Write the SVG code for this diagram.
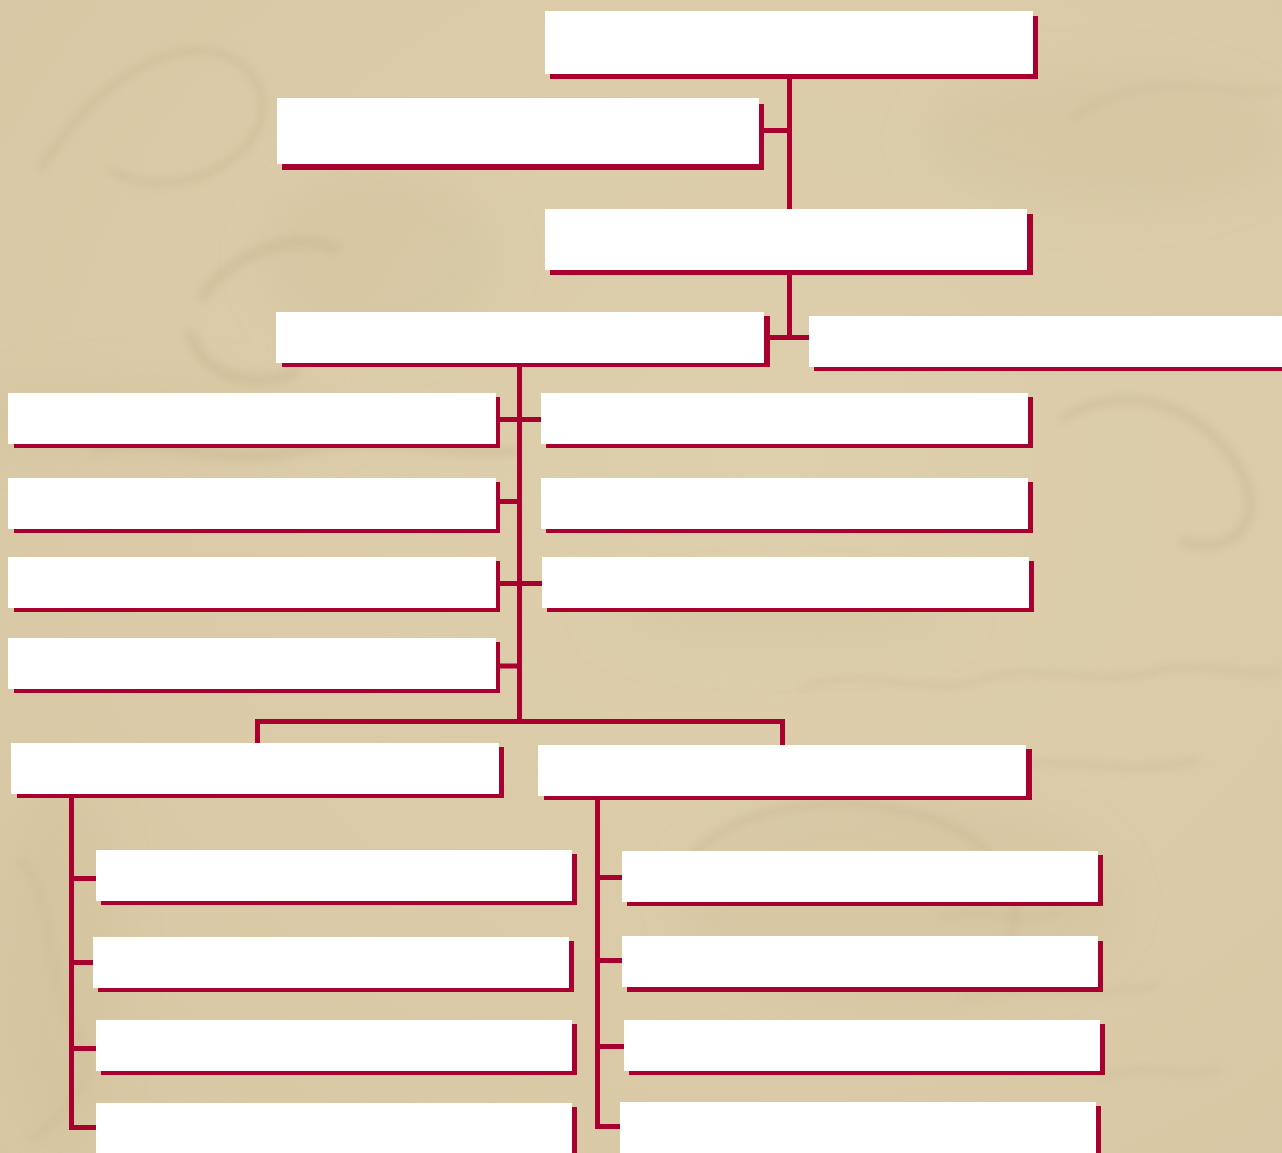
<svg xmlns="http://www.w3.org/2000/svg" width="1282" height="1153" viewBox="0 0 1282 1153">
  <defs>
    <style>
      .sh { fill: #A8002F; }
      .bx { fill: #FFFFFF; }
      .ln { fill: none; stroke: #A8002F; stroke-width: 5; stroke-linecap: butt; stroke-linejoin: miter; }
      .tex { fill: none; stroke: #C7B38C; stroke-opacity: 0.35; }
      .blob { fill: #CDBB95; fill-opacity: 0.25; }
    </style>
    <radialGradient id="bgGrad" cx="0.6" cy="0.4" r="0.8">
      <stop offset="0" stop-color="#DECFAD"/>
      <stop offset="1" stop-color="#D8C7A3"/>
    </radialGradient>
    <filter id="soft" x="-10%" y="-10%" width="120%" height="120%">
      <feGaussianBlur stdDeviation="4"/>
    </filter>
    <filter id="verysoft" x="-20%" y="-20%" width="140%" height="140%">
      <feGaussianBlur stdDeviation="20"/>
    </filter>
  </defs>

  <!-- background -->
  <rect x="0" y="0" width="1282" height="1153" fill="url(#bgGrad)"/>
  <g filter="url(#verysoft)">
    <ellipse class="blob" cx="1100" cy="140" rx="180" ry="70"/>
    <ellipse class="blob" cx="150" cy="420" rx="200" ry="40"/>
    <ellipse class="blob" cx="780" cy="620" rx="180" ry="30"/>
    <ellipse class="blob" cx="900" cy="900" rx="220" ry="110"/>
    <ellipse class="blob" cx="60" cy="960" rx="60" ry="180"/>
    <ellipse class="blob" cx="380" cy="260" rx="120" ry="90"/>
  </g>
  <g filter="url(#soft)">
    <path class="tex" stroke-width="8" d="M40 170 C 120 40, 230 20, 260 90 C 280 150, 180 210, 110 170"/>
    <path class="tex" stroke-width="12" d="M200 300 C 230 250, 300 230, 340 250 M190 330 C 200 380, 260 390, 300 370"/>
    <path class="tex" stroke-width="10" d="M1060 420 C 1120 380, 1200 400, 1240 470 C 1270 520, 1230 560, 1180 540"/>
    <path class="tex" stroke-width="6" d="M800 690 C 860 660, 920 700, 980 680 C 1040 660, 1100 690, 1160 670 C 1200 660, 1250 680, 1282 670"/>
    <path class="tex" stroke-width="6" d="M820 780 C 880 760, 940 790, 1000 770 C 1060 750, 1120 780, 1200 760"/>
    <path class="tex" stroke-width="8" d="M680 880 C 700 820, 800 790, 900 810 C 1000 830, 1040 900, 1000 960"/>
    <path class="tex" stroke-width="5" d="M940 920 C 980 900, 1020 930, 1060 910 M960 1000 C 1010 980, 1080 1000, 1160 985 M1100 1080 C 1140 1060, 1180 1080, 1220 1070"/>
    <path class="tex" stroke-width="10" d="M90 450 C 150 430, 220 470, 300 450 C 380 430, 450 460, 520 450"/>
    <path class="tex" stroke-width="5" d="M20 860 C 60 900, 40 980, 80 1040 C 100 1080, 60 1120, 30 1140"/>
    <path class="tex" stroke-width="5" d="M1070 120 C 1150 60, 1230 100, 1282 90"/>
  </g>

  <!-- connectors -->
  <g id="connectors">
    <path class="ln" d="M789.5 79 V209 M764 130.5 H789.5"/>
    <path class="ln" d="M789.5 275 V337.5 M770 337.5 H809"/>
    <path class="ln" d="M519.5 367 V721.5"/>
    <path class="ln" d="M500 419.5 H541 M500 501.5 H519.5 M500 583.5 H542 M500 666 H519.5"/>
    <path class="ln" d="M257.5 743 V721.5 H782.5 V745"/>
    <path class="ln" d="M71.5 798 V1127.5 H96 M71.5 878.5 H96 M71.5 962.5 H93 M71.5 1048.5 H96"/>
    <path class="ln" d="M597.5 800 V1126.5 H620 M597.5 877.5 H622 M597.5 960.5 H622 M597.5 1046.5 H624"/>
  </g>

  <!-- nodes -->
  <g id="n1"><rect class="sh" x="550" y="16" width="488" height="63"/><rect class="bx" x="545" y="11" width="488" height="63"/></g>
  <g id="n2"><rect class="sh" x="282" y="104" width="482" height="66"/><rect class="bx" x="277" y="98" width="482" height="66"/></g>
  <g id="n3"><rect class="sh" x="550" y="214" width="483" height="61"/><rect class="bx" x="545" y="209" width="482" height="61"/></g>
  <g id="n4"><rect class="sh" x="282" y="316" width="488" height="51"/><rect class="bx" x="276" y="312" width="488" height="51"/></g>
  <g id="n5"><rect class="sh" x="814" y="320" width="480" height="51"/><rect class="bx" x="809" y="316" width="480" height="51"/></g>

  <g id="n6"><rect class="sh" x="14" y="397" width="486" height="51"/><rect class="bx" x="8" y="393" width="488" height="51"/></g>
  <g id="n7"><rect class="sh" x="14" y="482" width="486" height="51"/><rect class="bx" x="8" y="478" width="488" height="51"/></g>
  <g id="n8"><rect class="sh" x="14" y="561" width="486" height="51"/><rect class="bx" x="8" y="557" width="488" height="51"/></g>
  <g id="n9"><rect class="sh" x="14" y="642" width="486" height="51"/><rect class="bx" x="8" y="638" width="488" height="51"/></g>

  <g id="n10"><rect class="sh" x="546" y="397" width="487" height="51"/><rect class="bx" x="541" y="393" width="487" height="51"/></g>
  <g id="n11"><rect class="sh" x="546" y="482" width="487" height="51"/><rect class="bx" x="541" y="478" width="487" height="51"/></g>
  <g id="n12"><rect class="sh" x="547" y="561" width="487" height="51"/><rect class="bx" x="542" y="557" width="487" height="51"/></g>

  <g id="n13"><rect class="sh" x="17" y="747" width="487" height="51"/><rect class="bx" x="11" y="743" width="488" height="51"/></g>
  <g id="n14"><rect class="sh" x="544" y="749" width="488" height="51"/><rect class="bx" x="538" y="745" width="488" height="51"/></g>

  <g id="n15"><rect class="sh" x="101" y="854" width="476" height="51"/><rect class="bx" x="96" y="850" width="476" height="51"/></g>
  <g id="n16"><rect class="sh" x="98" y="941" width="476" height="51"/><rect class="bx" x="93" y="937" width="476" height="51"/></g>
  <g id="n17"><rect class="sh" x="101" y="1024" width="476" height="51"/><rect class="bx" x="96" y="1020" width="476" height="51"/></g>
  <g id="n18"><rect class="sh" x="101" y="1107" width="476" height="51"/><rect class="bx" x="96" y="1103" width="476" height="51"/></g>

  <g id="n19"><rect class="sh" x="627" y="855" width="476" height="51"/><rect class="bx" x="622" y="851" width="476" height="51"/></g>
  <g id="n20"><rect class="sh" x="627" y="941" width="476" height="51"/><rect class="bx" x="622" y="936" width="476" height="51"/></g>
  <g id="n21"><rect class="sh" x="629" y="1024" width="476" height="51"/><rect class="bx" x="624" y="1020" width="476" height="51"/></g>
  <g id="n22"><rect class="sh" x="625" y="1106" width="476" height="51"/><rect class="bx" x="620" y="1102" width="476" height="51"/></g>
</svg>
